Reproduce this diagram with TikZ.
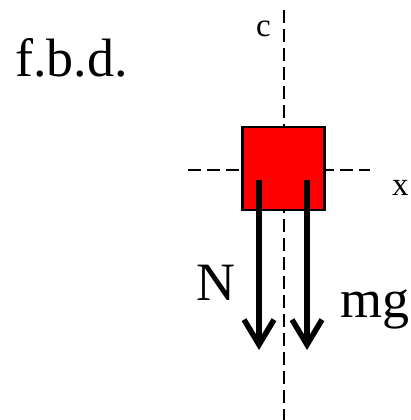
\documentclass[tikz,border=0pt]{standalone}
\usepackage{fontspec}
\setmainfont{Liberation Serif}
\usetikzlibrary{arrows.meta}
\tikzset{
  axisline/.style={line width=2.2pt, dash pattern=on 13pt off 6pt},
  blockbox/.style={draw=black, line width=2.5pt, fill=red},
  force/.style={line width=6pt, -{Straight Barb[length=25pt,width=30pt,line width=5.5pt]}},
  bigtext/.style={font=\fontsize{54}{60}\selectfont, inner sep=0pt, anchor=base west},
  smalltext/.style={font=\fontsize{33}{36}\selectfont, inner sep=0pt, anchor=base west}
}
\begin{document}
\begin{tikzpicture}[x=1pt,y=-1pt]
\useasboundingbox (0,0) rectangle (411,420);
% axes
\coordinate (ctop) at (284,10);
\coordinate (cbot) at (284,420);
\coordinate (xl) at (188,170);
\coordinate (xr) at (370,170);
\draw[axisline] (ctop) -- (cbot);
\draw[axisline] (xl) -- (xr);
% block
\node[blockbox, minimum width=82pt, minimum height=83pt, inner sep=0pt] (blk) at (283.5,168.5) {};
% forces
\coordinate (ns) at (259,180);
\coordinate (ne) at (259,350);
\coordinate (ms) at (307,180);
\coordinate (me) at (307,350);
\draw[force] (ns) -- (ne);
\draw[force] (ms) -- (me);
% labels
\node[bigtext] (title) at (15,77) {f.b.d.};
\node[smalltext] (clab) at (256,37) {c};
\node[smalltext] (xlab) at (392,195) {x};
\node[bigtext] (nlab) at (196,300) {N};
\node[bigtext] (mglab) at (340,317) {mg};
\end{tikzpicture}
\end{document}
